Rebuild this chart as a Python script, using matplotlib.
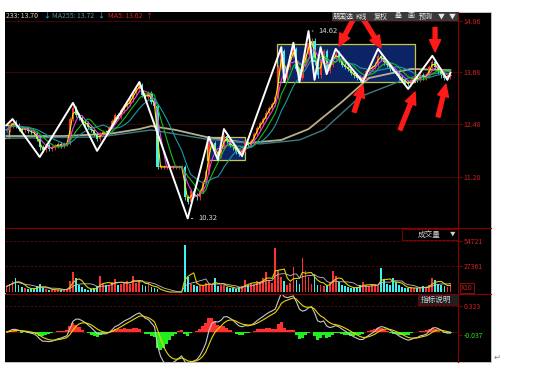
import numpy as np
import pandas as pd
import matplotlib
matplotlib.use('Agg')
import matplotlib.pyplot as plt
from matplotlib.patches import Rectangle
from matplotlib.lines import Line2D

plt.rcParams['font.family'] = ['Noto Sans CJK SC', 'DejaVu Sans']

# daily closes (one value per candle)
close = [12.35, 12.45, 12.52, 12.45, 12.38, 12.35, 12.40, 12.33, 12.30, 12.28,
         12.15, 11.95, 11.90, 12.00, 11.92, 11.95, 11.98, 12.02, 11.98, 12.02,
         12.05, 12.60, 12.85, 12.70, 12.62, 12.55, 12.50, 12.42, 12.35, 12.25,
         12.15, 12.25, 12.30, 12.28, 12.40, 12.55, 12.70, 12.65, 12.80, 12.90,
         12.95, 13.05, 13.20, 13.30, 13.38, 13.15, 13.10, 13.20, 13.00, 12.90,
         11.50, 11.50, 11.50, 11.50, 11.50, 11.50, 11.50, 11.50, 11.50, 10.80,
         10.70, 10.95, 10.85, 10.80, 10.95, 11.15, 11.40, 12.05, 12.05, 11.85,
         11.75, 11.95, 12.20, 12.10, 12.00, 11.95, 11.85, 11.80, 11.90, 12.05,
         12.00, 12.10, 12.25, 12.40, 12.50, 12.60, 12.75, 12.85, 12.95, 13.10,
         13.80, 14.15, 13.55, 13.80, 14.05, 14.20, 13.75, 13.55, 13.85, 14.10,
         14.35, 14.40, 13.90, 13.60, 13.95, 14.15, 13.70, 13.85, 14.00, 14.10,
         13.95, 13.85, 13.80, 13.75, 13.65, 13.60, 13.55, 13.50, 13.55, 13.70,
         13.75, 13.80, 13.85, 14.05, 14.00, 13.90, 13.85, 13.75, 13.70, 13.65,
         13.55, 13.50, 13.45, 13.40, 13.50, 13.55, 13.50, 13.60, 13.55, 13.60,
         13.80, 13.90, 13.80, 13.70, 13.60, 13.55, 13.58, 13.62]
first_open = 12.35

volume = [6000, 9000, 12000, 15000, 8000, 5000, 4000, 3500, 3000, 3500, 6000,
          9000, 4000, 3000, 2500, 2000, 2500, 2000, 2500, 3000, 3500,
          12000, 21000, 15000, 8000, 5000, 3000, 2500, 3000, 4000, 6000, 17000,
          9000, 7000, 8000, 11000, 14000, 8000, 9000, 10000, 12000, 9000, 17000, 10000, 13000,
          8000, 6000, 9000, 5000, 4000,
          3000,
          0, 0, 0, 0, 0, 0, 0, 0,
          50000,
          16000,
          9000, 7000, 6000, 8000, 7000, 10000,
          9000, 7000, 15000, 6000, 8000, 7000, 5000, 4000, 4000, 3500, 5000, 6000, 13000,
          8000, 10000, 9000, 12000, 11000, 15000, 21000, 13000, 10000, 47000, 23000, 16000, 12000,
          8000, 10000, 27000, 13000, 9000, 36000, 22000, 16000, 9000, 18000, 8000, 7000, 6000,
          7000, 10000, 22000, 17000, 11000, 8000, 6000, 5000, 4000, 4000, 5000, 7000, 11000,
          7000, 6000, 8000, 9000, 6000, 26000, 13000, 9000, 8000, 15000, 11000, 7000, 5000,
          4000, 4000, 5000, 4000, 4000, 5000, 6000, 5000, 8000, 15000, 13000, 9000, 8000, 6000, 5000, 9000]

# zigzag pivots (candle index, price)
zz_idx = [0, 2, 11, 22, 30, 44, 60, 67, 70, 72, 78, 91, 92, 95, 97, 100, 102, 104, 106, 109,
          118, 123, 133, 141, 146, 147]
zz_price = [12.46, 12.60, 11.73, 12.97, 11.87, 13.45, 10.32, 12.19, 11.66, 12.37, 11.75, 14.25,
            13.45, 14.35, 13.45, 14.62, 13.50, 14.25, 13.63, 14.21, 13.45, 14.21, 13.29, 14.05,
            13.50, 13.66]

# long moving averages
ma233_idx = [0, 19, 34, 44, 48, 56, 66, 80, 91, 100, 111, 120, 134, 147]
ma233_val = [12.21, 12.21, 12.26, 12.37, 12.44, 12.35, 12.19, 12.05, 12.12, 12.37, 12.99, 13.54, 13.75, 13.72]
ma255_idx = [0, 31, 48, 66, 84, 97, 105, 117, 133, 147]
ma255_val = [12.16, 12.19, 12.35, 12.14, 12.03, 12.12, 12.35, 13.11, 13.54, 13.70]

price_ticks = [14.86, 13.68, 12.48, 11.28]
vol_ticks = [54721, 27361]

# consolidation boxes: (x0, x1, low, high)
boxes = [(-3, 0.8, 12.17, 12.46), (66.5, 79.0, 11.66, 12.19), (89.6, 135.3, 13.45, 14.32)]
# red arrows: (tail, tip)
arrows = [((114.7, 14.87), (110.1, 14.27)),
          ((118.4, 14.87), (124.0, 14.23)),
          ((141.9, 14.70), (141.9, 14.14)),
          ((115.1, 12.76), (118.0, 13.38)),
          ((130.3, 12.35), (135.3, 13.22)),
          ((142.9, 12.65), (145.5, 13.40))]

W, H = 558, 366
fig = plt.figure(figsize=(W / 100, H / 100), dpi=100)
fig.patch.set_facecolor('white')


def pax(x0, y0, x1, y1):
    a = fig.add_axes([x0 / W, 1 - y1 / H, (x1 - x0) / W, (y1 - y0) / H])
    a.set_facecolor('black')
    for s in a.spines.values():
        s.set_visible(False)
    a.set_xticks([])
    a.yaxis.tick_right()
    a.tick_params(axis='y', colors='#7a0000', labelcolor='#d42020', labelsize=5, length=3, pad=1)
    a.set_xlim(-0.5, 149.5)
    return a


def ftext(x, y, s, **kw):
    fig.text(x / W, 1 - y / H, s, **kw)


def fline(x0, y0, x1, y1, **kw):
    fig.add_artist(Line2D([x0 / W, x1 / W], [1 - y0 / H, 1 - y1 / H], transform=fig.transFigure, **kw))


# black background panel
fig.add_artist(Rectangle((5 / W, 1 - 362 / H), 486 / W, 350 / H, transform=fig.transFigure,
                         facecolor='black', edgecolor='#cfcfcf', lw=0.6, zorder=0))

c = pd.Series(close)
o = c.shift(1).fillna(first_open)
x = np.arange(len(close))
up = (c >= o).values
col = np.where(up, '#ff3030', '#3ff0f0')

# ---- main price panel ----
ax = pax(5, 12, 458, 228)
ax.set_ylim(10.10, 15.056)
ax.set_yticks(price_ticks)
ax.set_yticklabels(['%.2f' % p for p in price_ticks])
for p in price_ticks:
    ax.axhline(p, color='#4a0808', lw=0.6, zorder=0)

for x0, x1, lo, hi in boxes:
    ax.add_patch(Rectangle((x0, lo), x1 - x0, hi - lo, facecolor='#0c2466', edgecolor='#c8c83a',
                           lw=0.9, zorder=1))

ax.plot(ma233_idx, ma233_val, color='#b8b08a', lw=1.3, zorder=2)
ax.plot(ma255_idx, ma255_val, color='#3a7c84', lw=1.0, zorder=2)

wick = 0.05
ax.vlines(x, np.minimum(o, c) - wick, np.maximum(o, c) + wick, colors=col, lw=0.6, zorder=3)
body = np.maximum((c - o).abs().values, 0.02)
flat = (c == o).values
ax.bar(x, body, bottom=np.minimum(o, c), width=np.where(flat, 1.0, 0.7), color=col, lw=0, zorder=3)

for w, cl in [(2, '#f0f000'), (4, '#e040e0'), (7, '#10c010'), (12, '#1a9aa6')]:
    ax.plot(x, c.rolling(w, min_periods=1).mean(), color=cl, lw=0.8, zorder=4)

ax.plot(zz_idx, zz_price, color='white', lw=1.4, zorder=5)
ax.annotate('10.32', xy=(60.3, 10.32), xytext=(63.5, 10.32), color='#d0d0d0', fontsize=5.5,
            va='center', arrowprops=dict(arrowstyle='-', color='#d0d0d0', lw=0.7), zorder=6)
ax.annotate('14.62', xy=(100.3, 14.62), xytext=(103.3, 14.62), color='#d0d0d0', fontsize=5.5,
            va='center', arrowprops=dict(arrowstyle='-', color='#d0d0d0', lw=0.7), zorder=6)

for tail, tip in arrows:
    ax.annotate('', xy=tip, xytext=tail, zorder=7, annotation_clip=False,
                arrowprops=dict(arrowstyle='simple,head_length=1.1,head_width=1.0,tail_width=0.35',
                                color='#ff1a1a', mutation_scale=8, shrinkA=0, shrinkB=0))

# ---- volume panel ----
vx = pax(5, 228, 458, 293)
vx.set_ylim(-1073, 68669)
vx.set_yticks(vol_ticks)
vx.set_yticklabels([str(v) for v in vol_ticks])
for v in vol_ticks:
    vx.axhline(v, color='#5a0a0a', lw=0.6, ls=(0, (3, 2)), zorder=0)
vol = pd.Series(volume)
vx.bar(x, vol, width=0.6, color=col, lw=0, zorder=2)
vx.plot(x, vol.rolling(4, min_periods=1).mean(), color='#e0d000', lw=0.8, zorder=3)
vx.plot(x, vol.rolling(8, min_periods=1).mean(), color='#c0c0c0', lw=0.6, zorder=3)

# ---- MACD panel ----
mx = pax(5, 294, 458, 362)
mx.set_ylim(-0.372, 0.4715)
mx.set_yticks([0.323, -0.037])
mx.set_yticklabels(['0.323', '-0.037'])
mx.get_yticklabels()[1].set_color('#20e020')
mx.axhline(0.323, color='#5a0a0a', lw=0.6, ls=(0, (3, 2)), zorder=0)
mx.axhline(0, color='#5a0a0a', lw=0.6, zorder=0)
ema_f = c.ewm(span=6, adjust=False).mean()
ema_s = c.ewm(span=13, adjust=False).mean()
dif = ema_f - ema_s
dea = dif.ewm(span=5, adjust=False).mean()
hist = dif - dea
mx.bar(x, hist, width=1.0, color=np.where(hist >= 0, '#ff3030', '#20f020'), lw=0, zorder=2)
mx.plot(x, dif, color='#c8c8c8', lw=0.8, zorder=3)
mx.plot(x, dea, color='#e6d800', lw=0.8, zorder=3)

# frame lines
fline(458, 12, 458, 362, color='#8a0000', lw=0.8)
fline(5, 228, 491, 228, color='#8a0000', lw=0.8)
fline(5, 293.5, 491, 293.5, color='#8a0000', lw=0.8)

# top legend
ftext(6, 16, '233: 13.70', color='#d8d0a8', fontsize=5, va='center')
ftext(43, 16, '↓', color='#30d0f0', fontsize=5, va='center')
ftext(52, 16, 'MA255: 13.72', color='#4e8e98', fontsize=5, va='center')
ftext(97, 16, '↓', color='#30d0f0', fontsize=5, va='center')
ftext(108, 16, 'MA5: 13.62', color='#e02020', fontsize=5, va='center')
ftext(145, 16, '↑', color='#e02020', fontsize=5, va='center')

# toolbar
fig.add_artist(Rectangle((332 / W, 1 - 21 / H), 126 / W, 9 / H, transform=fig.transFigure,
                         facecolor='#3a3a3a', edgecolor='none', zorder=5))
for tx, s in [(333, '朋国选'), (355, 'K线'), (374, '复权'), (395, '叠'), (407, '画'), (419, '预测'),
              (438, '▼'), (449, '▼')]:
    ftext(tx, 16.5, s, color='#e8e8e8', fontsize=5, va='center', zorder=6)

# panel headers
fig.add_artist(Rectangle((402 / W, 1 - 240 / H), 56 / W, 11 / H, transform=fig.transFigure,
                         facecolor='black', edgecolor='#7a0000', lw=0.7, zorder=5))
ftext(418, 234.5, '成交量', color='#d0d0d0', fontsize=5.5, va='center', zorder=6)
ftext(450, 234.5, '▼', color='#d0d0d0', fontsize=4, va='center', zorder=6)
fig.add_artist(Rectangle((418 / W, 1 - 305 / H), 40 / W, 11 / H, transform=fig.transFigure,
                         facecolor='#202020', edgecolor='#7a0000', lw=0.7, zorder=5))
ftext(421, 299.5, '指标说明', color='#d0d0d0', fontsize=5.5, va='center', zorder=6)
ftext(461, 288, 'X10', color='#d42020', fontsize=5, va='center',
      bbox=dict(boxstyle='square,pad=0.15', facecolor='black', edgecolor='#a01010', lw=0.6))
ftext(494, 357, '↵', color='#808080', fontsize=6, va='center')

fig.savefig('out.png', dpi=100, facecolor='white')
